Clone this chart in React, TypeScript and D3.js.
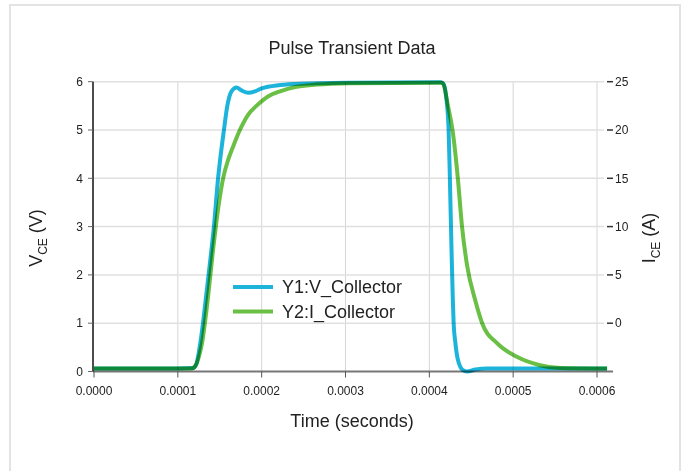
import * as d3 from 'd3';

// Y1: collector voltage (V) vs time (s)
const vTime = [0, 0.00005, 0.0001, 0.000118, 0.000122, 0.000126, 0.00013, 0.000134, 0.000138, 0.000143,
  0.000148, 0.000155, 0.000159, 0.000164, 0.00017, 0.000176, 0.000184, 0.000192, 0.0002, 0.000222,
  0.000246, 0.000305, 0.000414, 0.000417, 0.00042, 0.000423, 0.0004245, 0.0004265, 0.000428, 0.000429,
  0.000431, 0.000434, 0.00044, 0.000445, 0.000455, 0.000469, 0.000612];
const vCollector = [0.06, 0.06, 0.06, 0.07, 0.15, 0.5, 1.0, 1.6, 2.2, 3.0,
  4.0, 5.0, 5.5, 5.8, 5.88, 5.82, 5.77, 5.8, 5.86, 5.93,
  5.96, 5.98, 5.99, 5.95, 5.7, 5.0, 4.0, 2.5, 1.5, 1.0,
  0.6, 0.25, 0.03, 0.0, 0.04, 0.06, 0.06];

// Y2: collector current (A) vs time (s)
const iTime = [0, 0.00005, 0.0001, 0.000116, 0.000121, 0.000125, 0.000129, 0.000133, 0.000137, 0.000142,
  0.000146, 0.00015, 0.000154, 0.00016, 0.000166, 0.000174, 0.000184, 0.000195, 0.000208, 0.000222,
  0.00024, 0.000265, 0.000305, 0.000414, 0.0004165, 0.000422, 0.000428, 0.000434, 0.000439, 0.000445,
  0.000455, 0.000463, 0.000481, 0.000505, 0.000532, 0.000556, 0.000612];
const iCollector = [-4.7, -4.7, -4.7, -4.7, -4.4, -3.5, -2.0, 0.5, 3.5, 7.6,
  10.5, 13.0, 15.0, 16.9, 18.3, 20.0, 21.6, 22.6, 23.5, 24.0,
  24.45, 24.7, 24.85, 24.9, 24.8, 22.6, 19.8, 15, 10, 6.0,
  2.3, 0, -2.1, -3.5, -4.35, -4.65, -4.7];

const xTicks = [0, 0.0001, 0.0002, 0.0003, 0.0004, 0.0005, 0.0006];
const yLeftTicks = [0, 1, 2, 3, 4, 5, 6];
const yRightTicks = [0, 5, 10, 15, 20, 25];
const legendItems = ['Y1:V_Collector', 'Y2:I_Collector'];

const BLUE = '#1db4dc';
const GREEN = '#6abf45';
const FONT = '"Liberation Sans", Arial, Helvetica, sans-serif';

export default function App() {
  const W = 685, H = 471;
  const x = d3.scaleLinear().domain([0, 0.0006]).range([94, 597]);
  const yL = d3.scaleLinear().domain([0, 6]).range([371.5, 81.7]);
  const yR = d3.scaleLinear().domain([-5, 25]).range([371.5, 81.7]);
  const axisRight = 613;
  const top = yL(6), bottom = yL(0);

  const vLine = d3.line<number>()
    .x((_, i) => x(vTime[i]))
    .y(d => yL(d))
    .curve(d3.curveMonotoneX);
  const iLine = d3.line<number>()
    .x((_, i) => x(iTime[i]))
    .y(d => yR(d))
    .curve(d3.curveMonotoneX);

  const fmt = d3.format('.4f');

  return (
    <div>
      <svg width={W} height={H} style={{ position: 'absolute', left: 0, top: 0, fontFamily: FONT }}>
        <rect x={0} y={0} width={W} height={H} fill="#fff" />
        <rect x={10} y={5} width={670} height={500} fill="#fff" stroke="#e3e3e3" strokeWidth={2} />

        <text x={352} y={54} textAnchor="middle" fontSize={18} fill="#222">Pulse Transient Data</text>

        {/* grid */}
        {xTicks.slice(1).map(t => (
          <line key={'gx' + t} x1={x(t)} x2={x(t)} y1={top} y2={bottom} stroke="#d6d6d6" strokeWidth={1} />
        ))}
        {yLeftTicks.slice(1).map(t => (
          <line key={'gy' + t} x1={93} x2={604} y1={yL(t)} y2={yL(t)} stroke="#e0e0e0" strokeWidth={1.5} />
        ))}

        {/* x axis */}
        <line x1={93} x2={axisRight} y1={bottom} y2={bottom} stroke="#777" strokeWidth={2} />
        {xTicks.map(t => (
          <g key={'xt' + t} transform={`translate(${x(t)},${bottom})`}>
            <line y1={0} y2={6} stroke="#555" strokeWidth={1} />
            <text y={23} textAnchor="middle" fontSize={12} fill="#222">{fmt(t)}</text>
          </g>
        ))}
        <text x={352} y={427} textAnchor="middle" fontSize={18} fill="#222">Time (seconds)</text>

        {/* left axis */}
        <line x1={93} x2={93} y1={top} y2={bottom} stroke="#111" strokeWidth={1.5} />
        {yLeftTicks.map(t => (
          <g key={'yl' + t} transform={`translate(93,${yL(t)})`}>
            <line x1={-5} x2={0} stroke="#666" strokeWidth={1} />
            <text x={-10} dy="0.35em" textAnchor="end" fontSize={12} fill="#222">{t}</text>
          </g>
        ))}
        <text transform="translate(42,238) rotate(-90)" textAnchor="middle" fontSize={18} fill="#222">
          V<tspan fontSize={12} dy={5}>CE</tspan><tspan dy={-5}> (V)</tspan>
        </text>

        {/* right axis */}
        {yRightTicks.map(t => (
          <g key={'yr' + t} transform={`translate(${axisRight},${yR(t)})`}>
            <line x1={-6} x2={0} stroke="#333" strokeWidth={1.5} />
            <text x={2} dy="0.35em" textAnchor="start" fontSize={12} fill="#222">{t}</text>
          </g>
        ))}
        <text transform="translate(655,238) rotate(-90)" textAnchor="middle" fontSize={18} fill="#222">
          I<tspan fontSize={12} dy={5}>CE</tspan><tspan dy={-5}> (A)</tspan>
        </text>

        {/* series */}
        <path d={vLine(vCollector) || ''} fill="none" stroke={BLUE} strokeWidth={4}
          strokeLinejoin="round" style={{ mixBlendMode: 'multiply' }} />
        <path d={iLine(iCollector) || ''} fill="none" stroke={GREEN} strokeWidth={4}
          strokeLinejoin="round" style={{ mixBlendMode: 'multiply' }} />

        {/* legend */}
        {legendItems.map((name, i) => (
          <g key={name} transform={`translate(233,${287 + i * 24.5})`}>
            <line x1={0} x2={40} stroke={i === 0 ? BLUE : GREEN} strokeWidth={4} />
            <text x={49} dy="0.35em" fontSize={18} fill="#222">{name}</text>
          </g>
        ))}
      </svg>
    </div>
  );
}
